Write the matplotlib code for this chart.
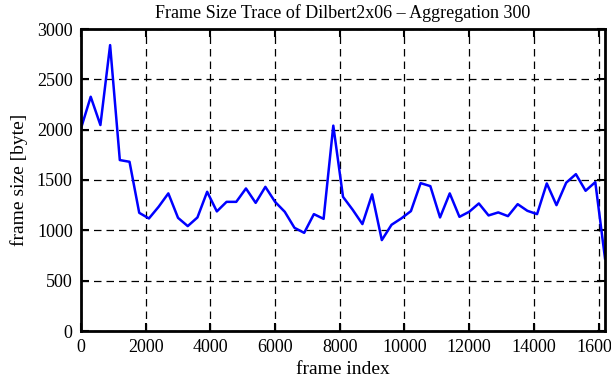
import matplotlib
matplotlib.use("Agg")
import matplotlib.pyplot as plt
import numpy as np

# frame index (aggregation of 300 frames) and mean frame size in bytes
frame_index = np.arange(0, 16201, 300)
frame_size = [
    2013, 2327, 2046, 2840, 1698, 1681, 1174, 1118, 1234, 1367,
    1124, 1042, 1128, 1383, 1188, 1283, 1283, 1416, 1273, 1432,
    1283, 1184, 1025, 975, 1161, 1114, 2040, 1333, 1204, 1062,
    1357, 903, 1055, 1118, 1191, 1469, 1439, 1128, 1367, 1134,
    1184, 1267, 1148, 1178, 1141, 1260, 1194, 1161, 1466, 1250,
    1473, 1558, 1393, 1479, 721,
]
x_ticks = [0, 2000, 4000, 6000, 8000, 10000, 12000, 14000, 16000]
y_ticks = [0, 500, 1000, 1500, 2000, 2500, 3000]

plt.rcParams["font.family"] = ["Liberation Serif", "DejaVu Serif"]
plt.rcParams["font.size"] = 13

fig = plt.figure(figsize=(6.11, 3.80), dpi=100)
ax = fig.add_axes([81 / 611, 1 - 331 / 380, (605 - 81) / 611, (331 - 29) / 380])

ax.plot(frame_index, frame_size, color="#0000ff", lw=1.8)

ax.set_xlim(0, 16200)
ax.set_ylim(0, 3000)
ax.set_xticks(x_ticks)
ax.set_yticks(y_ticks)
ax.grid(True, color="black", linestyle=(0, (6, 4)), linewidth=0.9)
ax.tick_params(direction="in", length=6, width=1.5, top=True, right=True, pad=6)
for s in ax.spines.values():
    s.set_linewidth(2)

ax.set_title("Frame Size Trace of Dilbert2x06 \u2013 Aggregation 300", fontsize=13, pad=8)
ax.set_xlabel("frame index", fontsize=14, labelpad=3)
ax.set_ylabel("frame size [byte]", fontsize=14, labelpad=6)

fig.savefig("out.png", dpi=100)
plt.close(fig)
